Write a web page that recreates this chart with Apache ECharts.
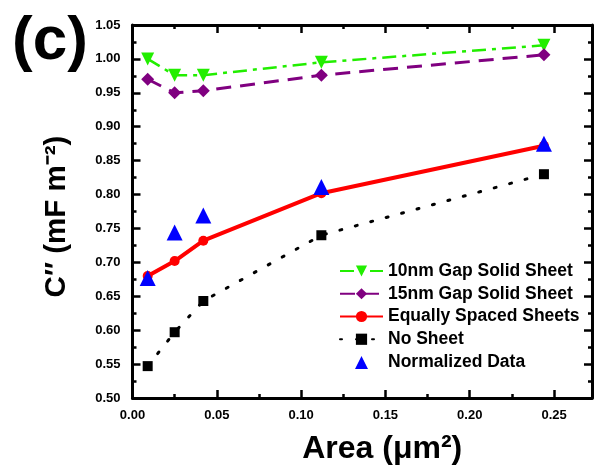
<!DOCTYPE html>
<html><head><meta charset="utf-8">
<script src="https://cdn.jsdelivr.net/npm/echarts@6/dist/echarts.min.js"></script>
<style>html,body{margin:0;padding:0;background:#fff}#c{width:596px;height:470px}</style>
</head><body><div id="c"></div>
<script>
const areas = [0.009, 0.025, 0.042, 0.112, 0.244];
const gap10 = [1.000, 0.976, 0.976, 0.995, 1.020];
const gap15 = [0.970, 0.950, 0.953, 0.976, 1.006];
const equal = [0.680, 0.702, 0.732, 0.802, 0.872];
const noSheet = [0.547, 0.597, 0.643, 0.740, 0.830];
const normalized = [0.677, 0.744, 0.769, 0.811, 0.875];
const seriesNames = ['10nm Gap Solid Sheet', '15nm Gap Solid Sheet', 'Equally Spaced Sheets', 'No Sheet', 'Normalized Data'];

const pair = ys => areas.map((x, i) => [x, ys[i]]);
const FONT = '"Liberation Sans", Arial, sans-serif';
const XMIN = 0, XMAX = 0.2725, YMIN = 0.5, YMAX = 1.05;

const chart = echarts.init(document.getElementById('c'), null, {renderer: 'canvas'});
const axisLine = {show: true, onZero: false, lineStyle: {color: '#000', width: 3}};
const hideLabel = {show: false};
const fmtX = v => (Math.abs(v / 0.05 - Math.round(v / 0.05)) < 1e-6) ? v.toFixed(2) : '';
const majorTick = {show: true, inside: true, length: 8, lineStyle: {width: 2.5, color: '#000'}};
const minorTickX = {show: true, inside: true, length: 4, lineStyle: {width: 2.5, color: '#000'}};

chart.setOption({
  animation: false,
  grid: {left: 132.5, right: 4, top: 25, bottom: 72, containLabel: false, outerBoundsMode: 'none'},
  xAxis: [
    {type: 'value', min: XMIN, max: XMAX, interval: 0.05, position: 'bottom',
     axisLine: axisLine, splitLine: {show: false}, axisTick: majorTick,
     axisLabel: {show: true, formatter: fmtX, color: '#000', fontFamily: FONT, fontWeight: 'bold', fontSize: 13, margin: 11, showMaxLabel: false},
     name: 'Area (μm²)', nameLocation: 'middle', nameGap: 35,
     nameTextStyle: {color: '#000', fontFamily: FONT, fontWeight: 'bold', fontSize: 32, padding: [0, 0, 0, 40]}},
    {type: 'value', min: XMIN, max: XMAX, interval: 0.025, position: 'bottom',
     axisLine: {show: false}, splitLine: {show: false}, axisTick: minorTickX, axisLabel: hideLabel},
    {type: 'value', min: XMIN, max: XMAX, interval: 0.05, position: 'top',
     axisLine: axisLine, splitLine: {show: false}, axisTick: majorTick, axisLabel: hideLabel},
    {type: 'value', min: XMIN, max: XMAX, interval: 0.025, position: 'top',
     axisLine: {show: false}, splitLine: {show: false}, axisTick: minorTickX, axisLabel: hideLabel}
  ],
  yAxis: [
    {type: 'value', min: YMIN, max: YMAX, interval: 0.05, position: 'left',
     axisLine: axisLine, splitLine: {show: false}, axisTick: majorTick,
     minorTick: {show: true, splitNumber: 2, length: 4, lineStyle: {width: 2.5, color: '#000'}},
     minorSplitLine: {show: false},
     axisLabel: {show: true, formatter: v => v.toFixed(2), color: '#000', fontFamily: FONT, fontWeight: 'bold', fontSize: 13, margin: 12},
     name: 'C″ (mF m⁻²)', nameLocation: 'middle', nameGap: 61,
     nameTextStyle: {color: '#000', fontFamily: FONT, fontWeight: 'bold', fontSize: 29.5, padding: [0, 10, 0, 0]}},
    {type: 'value', min: YMIN, max: YMAX, interval: 0.05, position: 'right',
     axisLine: axisLine, splitLine: {show: false}, axisTick: majorTick,
     minorTick: {show: true, splitNumber: 2, length: 4, lineStyle: {width: 2.5, color: '#000'}},
     minorSplitLine: {show: false}, axisLabel: hideLabel}
  ],
  legend: {
    orient: 'vertical', left: 339, top: 262, padding: 0, itemWidth: 43, itemHeight: 14, itemGap: 4.75,
    textStyle: {color: '#000', fontFamily: FONT, fontWeight: 'bold', fontSize: 17.5, lineHeight: 17.5},
    data: seriesNames.slice(0, 4).map(n => ({name: n})).concat([
      {name: seriesNames[4], icon: 'path://M0 0L0 0.01M43 0L43 0.01M0 14L0 13.99M43 14L43 13.99M15 14L21.5 1L28 14Z'}
    ])
  },
  graphic: [
    {type: 'text', left: 12, top: 11, style: {text: '(c)', fill: '#000', font: 'bold 62px "Liberation Sans", Arial, sans-serif'}}
  ],
  series: [
    {name: seriesNames[0], type: 'line', data: pair(gap10), symbol: 'triangle', symbolRotate: 180, symbolSize: 13,
     itemStyle: {color: '#22ee00'}, lineStyle: {color: '#22ee00', width: 2.5, type: [14, 6, 4, 6]}, z: 3},
    {name: seriesNames[1], type: 'line', data: pair(gap15), symbol: 'diamond', symbolSize: 13,
     itemStyle: {color: '#800080'}, lineStyle: {color: '#800080', width: 3, type: [15, 9]}, z: 3},
    {name: seriesNames[2], type: 'line', data: pair(equal), symbol: 'circle', symbolSize: 10,
     itemStyle: {color: '#ff0000'}, lineStyle: {color: '#ff0000', width: 4}, z: 3},
    {name: seriesNames[3], type: 'line', data: pair(noSheet), symbol: 'rect', symbolSize: 10,
     itemStyle: {color: '#000'}, lineStyle: {color: '#000', width: 3, type: [2, 14], cap: 'round'}, z: 3},
    {name: seriesNames[4], type: 'scatter', data: pair(normalized), symbol: 'triangle', symbolSize: 16,
     itemStyle: {color: '#0000ff', opacity: 1}, z: 4}
  ]
});
</script></body></html>
